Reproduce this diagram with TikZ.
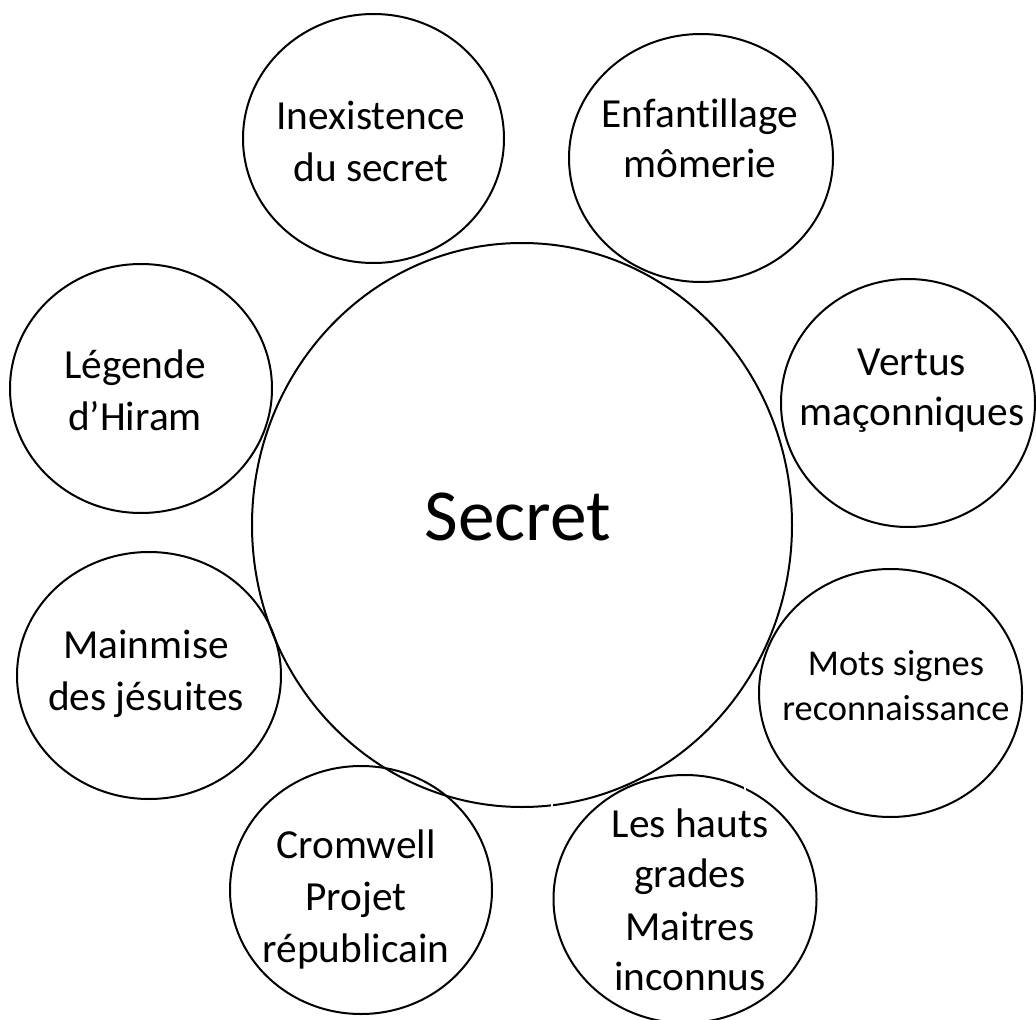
\documentclass[tikz,border=0pt]{standalone}
\usepackage{fontspec}
\setmainfont{Carlito}[Ligatures=NoCommon]
\begin{document}
\begin{tikzpicture}[x=0.75pt,y=-0.75pt,
  ring/.style={line width=1.5pt, black},
  lbl/.style={font=\fontsize{31}{37}\selectfont, anchor=base, inner sep=0pt},
  lblsmall/.style={font=\fontsize{27.3}{33}\selectfont, anchor=base, inner sep=0pt},
  lblbig/.style={font=\fontsize{55}{66}\selectfont, anchor=base, inner sep=0pt},
  gapline/.style={white, line width=2pt}]
\useasboundingbox (0,0) rectangle (1036,1020);
\clip (0,0) rectangle (1036,1020);
% centres
\coordinate (cS) at (522,525);
\coordinate (cInex) at (373.5,138.5);
\coordinate (cEnf) at (701,158);
\coordinate (cLeg) at (141,388.5);
\coordinate (cVert) at (908,403);
\coordinate (cMain) at (149,675.5);
\coordinate (cMots) at (890.5,693);
\coordinate (cCrom) at (361,890);
\coordinate (cHaut) at (685,899);
% rings
\draw[ring] (cS) ellipse [x radius=270, y radius=282];
\draw[ring] (cInex) ellipse [x radius=130.5, y radius=124.5];
\draw[ring] (cEnf) ellipse [x radius=132, y radius=124];
\draw[ring] (cLeg) ellipse [x radius=131, y radius=124.5];
\draw[ring] (cVert) ellipse [x radius=127, y radius=124];
\draw[ring] (cMain) ellipse [x radius=132, y radius=123.5];
\draw[ring] (cMots) ellipse [x radius=131.5, y radius=124];
\draw[ring] (cCrom) ellipse [x radius=131, y radius=124];
\draw[ring] (cHaut) ellipse [x radius=131.5, y radius=124];
% small gaps
\draw[gapline] (552,799) -- (552,815);
\draw[gapline] (745,782) -- (745,798);
% texts
\node[lblbig] (tS) at (518,540) {Secret};
\node[lbl] (tInex1) at (371,130) {Inexistence};
\node[lbl] (tInex2) at (371,182) {du secret};
\node[lbl] (tEnf1) at (700,128) {Enfant\kern0pt illage};
\node[lbl] (tEnf2) at (700,178) {mômerie};
\node[lbl] (tLeg1) at (135,378) {Légende};
\node[lbl] (tLeg2) at (135,430) {d’Hiram};
\node[lbl] (tVert1) at (912,375) {Vertus};
\node[lbl] (tVert2) at (912,425) {maçonniques};
\node[lbl] (tMain1) at (146,658) {Mainmise};
\node[lbl] (tMain2) at (146,710) {des jésuites};
\node[lblsmall] (tMots1) at (896,675) {Mots signes};
\node[lblsmall] (tMots2) at (896,720) {reconnaissance};
\node[lbl] (tCrom1) at (356,858) {Cromwell};
\node[lbl] (tCrom2) at (356,910) {Projet};
\node[lbl] (tCrom3) at (356,962) {républicain};
\node[lbl] (tHaut1) at (690,837) {Les hauts};
\node[lbl] (tHaut2) at (690,887) {grades};
\node[lbl] (tHaut3) at (690,940) {Maitres};
\node[lbl] (tHaut4) at (690,990) {inconnus};
\end{tikzpicture}
\end{document}
